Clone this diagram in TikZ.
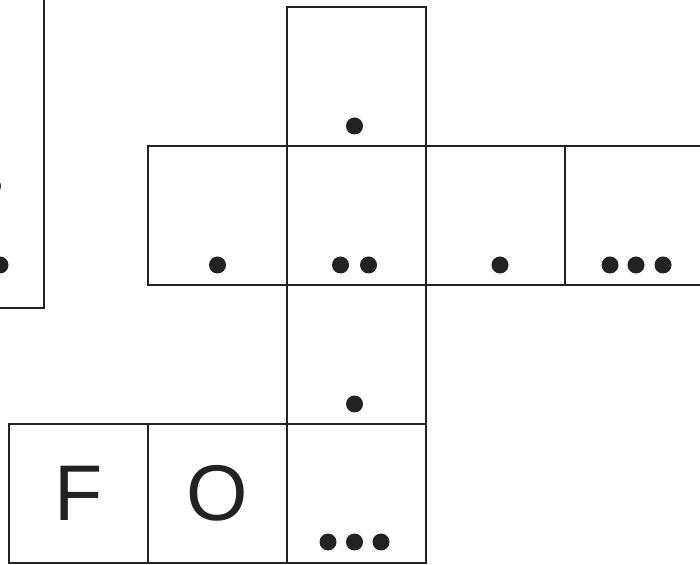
\documentclass[tikz,border=0pt]{standalone}
\usepackage{fontspec}
\setmainfont{Liberation Sans}
\usetikzlibrary{positioning,calc}
\definecolor{InkDark}{HTML}{222222}
\tikzset{
  cell/.style={draw=InkDark, line width=1.8pt, minimum width=139pt, minimum height=139pt,
               inner sep=0pt, outer sep=0pt, font=\fontsize{79}{79}\selectfont, text=InkDark},
  pip/.style={fill=InkDark},
}

\begin{document}
\begin{tikzpicture}[x=1pt, y=1pt]
    \useasboundingbox (0,0) rectangle (700,564);
    % the cross of cells
    \node[cell] (mid) at (356.5,348.5) {};
    \node[cell,above=0pt of mid] (top) {};
    \node[cell,left=0pt of mid] (west) {};
    \node[cell,right=0pt of mid] (east) {};
    \node[cell,right=0pt of east] (far) {};
    \node[cell,below=0pt of mid] (down) {};
    \node[cell,below=0pt of down] (tail) {};
    \node[cell,left=0pt of tail] (oh) {\raisebox{-4pt}{O}};
    \node[cell,left=0pt of oh] (ef) {\raisebox{-4pt}{F}};
    % strip on the left edge
    \node[cell,minimum width=139pt,minimum height=340pt,anchor=south east] (strip) at (44,256) {};
    % dots
    \fill[pip] ($(top.south)+(-2,20)$) circle (8.5pt);
    \fill[pip] ($(west.south)+(0,20)$) circle (8.5pt);
    \fill[pip] ($(mid.south)+(-16,20)$) circle (8.5pt);
    \fill[pip] ($(mid.south)+(12,20)$) circle (8.5pt);
    \fill[pip] ($(east.south)+(4.5,20)$) circle (8.5pt);
    \foreach \dx in {-26,0,27}
      \fill[pip] ($(far.south)+(1.5+\dx,20)$) circle (8.5pt);
    \fill[pip] ($(down.south)+(-2,20)$) circle (8.5pt);
    \foreach \dx in {-26.5,0,26.5}
      \fill[pip] ($(tail.south)+(-2+\dx,21)$) circle (8.5pt);
    \fill[pip] ($(strip.south east)+(-44,43)$) circle (8.5pt);
    \fill[pip] ($(strip.south east)+(-51.5,122)$) circle (8.5pt);
\end{tikzpicture}
\end{document}
